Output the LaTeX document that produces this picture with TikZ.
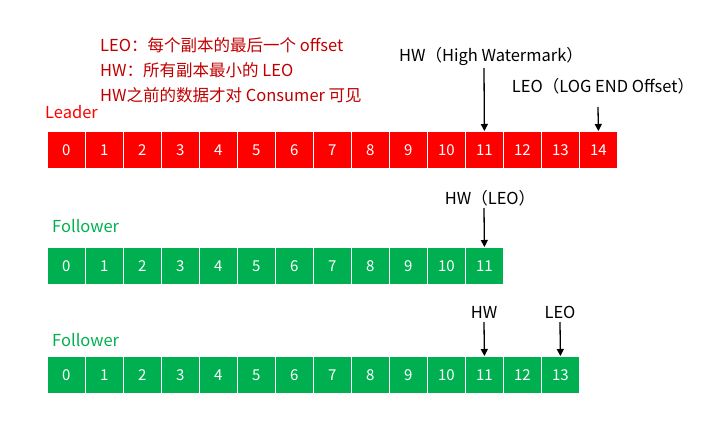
\documentclass[tikz,border=0pt]{standalone}
\usepackage{fontspec}
\setmainfont{Noto Sans CJK SC}
\usetikzlibrary{arrows.meta}
\definecolor{lred}{HTML}{FF0000}
\definecolor{lgreen}{HTML}{00B050}
\definecolor{tred}{HTML}{C00000}
\begin{document}
\begin{tikzpicture}[x=1pt,y=-1pt,
  cellbox/.style={draw=white,line width=0.8pt,minimum width=38pt,minimum height=37pt,inner sep=0pt,text=white,font=\fontsize{15}{17}\selectfont,anchor=north west},
  lab/.style={font=\fontsize{16.5}{19}\selectfont,inner sep=0pt},
  arr/.style={-{Triangle[length=7pt,width=7pt]},line width=1.3pt}]
\useasboundingbox (0,0) rectangle (724,434);
\foreach \i in {0,...,14}{\node[cellbox,fill=lred] (l\i) at (47+38*\i,131) {\i};}
\foreach \i in {0,...,11}{\node[cellbox,fill=lgreen] (f\i) at (47+38*\i,247) {\i};}
\foreach \i in {0,...,13}{\node[cellbox,fill=lgreen] (g\i) at (47+38*\i,356) {\i};}
\node[lab,text=tred,anchor=west] (t1) at (100,45) {LEO：每个副本的最后一个 offset};
\node[lab,text=tred,anchor=west] (t2) at (100,70) {HW：所有副本最小的 LEO};
\node[lab,text=tred,anchor=west] (t3) at (100,95) {HW之前的数据才对 Consumer 可见};
\node[lab,text=lred,anchor=west] (ld) at (45,112) {Leader};
\node[lab,text=lgreen,anchor=west] (fl1) at (52,226) {Follower};
\node[lab,text=lgreen,anchor=west] (fl2) at (52,340) {Follower};
\node[lab] (hw1) at (491,56) {HW（High Watermark）};
\node[lab] (leo1) at (603,86) {LEO（LOG END Offset）};
\node[lab] (hw2) at (490,198) {HW（LEO）};
\node[lab] (hw3) at (484,312) {HW};
\node[lab] (leo3) at (560,312) {LEO};
\coordinate (a1) at (484,68); \draw[arr] (a1) -- (l11.north);
\coordinate (a2) at (598,107); \draw[arr] (a2) -- (l14.north);
\coordinate (a3) at (484,208); \draw[arr] (a3) -- (f11.north);
\coordinate (a4) at (484,322); \draw[arr] (a4) -- (g11.north);
\coordinate (a5) at (560,322); \draw[arr] (a5) -- (g13.north);
\end{tikzpicture}
\end{document}
